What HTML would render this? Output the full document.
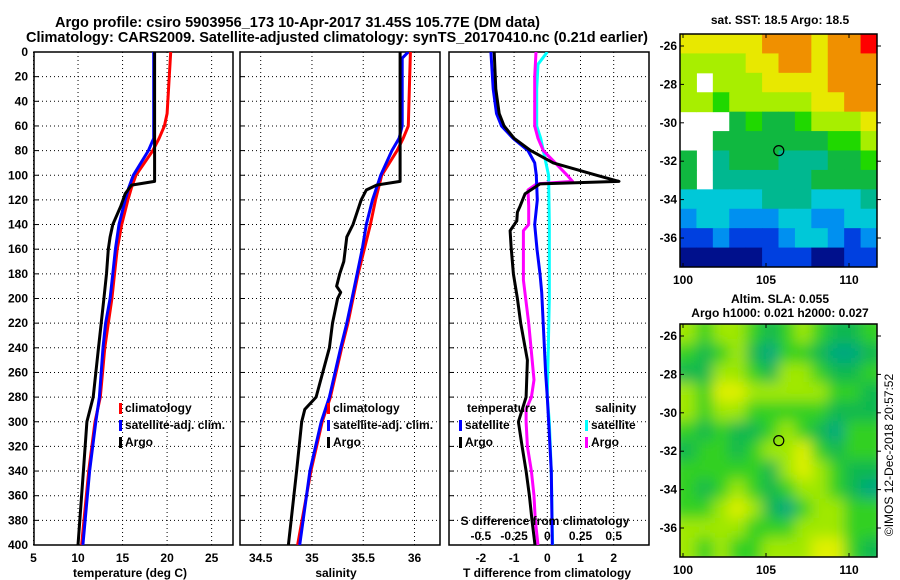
<!DOCTYPE html>
<html><head><meta charset="utf-8">
<style>
html,body{margin:0;padding:0;background:#fff;}
svg{display:block;font-family:"Liberation Sans",sans-serif;font-weight:bold;}
</style></head>
<body>
<svg id="chart" width="900" height="580" viewBox="0 0 900 580" xmlns="http://www.w3.org/2000/svg">
<defs>
<clipPath id="cp1"><rect x="34" y="52" width="199" height="493"/></clipPath>
<clipPath id="cp2"><rect x="240" y="52" width="200" height="493"/></clipPath>
<clipPath id="cp3"><rect x="449" y="52" width="200" height="493"/></clipPath>
<clipPath id="cpm2"><rect x="680" y="324" width="197" height="233"/></clipPath>
<filter id="blur" x="-5%" y="-5%" width="110%" height="110%"><feGaussianBlur stdDeviation="7"/></filter>
</defs>
<text x="55" y="27" font-size="15" textLength="485" lengthAdjust="spacingAndGlyphs">Argo profile: csiro 5903956_173 10-Apr-2017 31.45S 105.77E (DM data)</text>
<text x="26" y="42" font-size="15" textLength="622" lengthAdjust="spacingAndGlyphs">Climatology: CARS2009. Satellite-adjusted climatology: synTS_20170410.nc (0.21d earlier)</text>
<g id="g"></g>
<text x="780" y="24" font-size="12" text-anchor="middle">sat. SST: 18.5 Argo: 18.5</text>
<text x="780" y="303" font-size="12" text-anchor="middle">Altim. SLA: 0.055</text>
<text x="780" y="317" font-size="12" text-anchor="middle">Argo h1000: 0.021 h2000: 0.027</text>
<text x="0" y="0" font-size="12" font-weight="normal" text-anchor="middle" transform="translate(893,455) rotate(-90)">©IMOS 12-Dec-2018 20:57:52</text>
</svg>
<script>
// ---- data ----
const depthTicks=[0,20,40,60,80,100,120,140,160,180,200,220,240,260,280,300,320,340,360,380,400];
const tTicks=[5,10,15,20,25];
const sTicks=[34.5,35,35.5,36];
const dtTicks=[-2,-1,0,1,2];
const dsTicks=[-0.5,-0.25,0,0.25,0.5];
const dsTickLabels=["-0.5","-0.25","0","0.25","0.5"];
const tClimD=[0,50,60,70,80,100,110,120,140,160,180,200,220,240,280,300,340,400];
const tClimV=[20.4,20.0,19.7,19.1,18.4,16.5,16.0,15.6,14.9,14.4,14.1,13.8,13.4,13.0,12.5,11.9,11.2,10.4];
const tSatD=[0,70,80,100,110,120,140,160,180,200,220,240,280,300,340,400];
const tSatV=[18.5,18.5,17.9,16.2,15.7,15.3,14.6,14.2,13.9,13.6,13.1,12.8,12.4,12.0,11.3,10.55];
const tArgoD=[0,105,108,115,125,140,150,160,180,200,220,240,280,300,340,400];
const tArgoV=[18.6,18.6,16.0,15.3,14.8,13.9,13.6,13.4,13.2,12.9,12.6,12.3,11.7,11.0,10.6,10.0];
const sClimD=[0,60,70,80,100,120,140,160,180,200,220,240,280,300,340,400];
const sClimV=[35.96,35.94,35.89,35.83,35.68,35.62,35.57,35.51,35.45,35.40,35.35,35.29,35.18,35.10,34.99,34.86];
const sSatD=[0,5,60,70,80,100,120,140,160,180,200,220,240,280,300,340,400];
const sSatV=[35.94,35.88,35.88,35.85,35.78,35.67,35.59,35.53,35.49,35.44,35.39,35.34,35.28,35.17,35.09,34.98,34.88];
const sArgoD=[0,105,108,112,120,130,140,150,170,180,190,195,200,220,240,280,290,300,340,400];
const sArgoV=[35.86,35.86,35.63,35.53,35.48,35.44,35.40,35.34,35.31,35.27,35.24,35.28,35.25,35.20,35.17,35.04,34.93,34.90,34.85,34.77];
const dtSatD=[0,30,50,60,70,80,90,100,120,140,160,180,195,260,280,340,400];
const dtSatV=[-1.70,-1.63,-1.53,-1.38,-1.03,-0.58,-0.38,-0.33,-0.30,-0.38,-0.31,-0.22,-0.17,-0.05,0.0,0.12,0.15];
const dtArgoD=[0,30,50,60,70,80,90,100,105,107,115,125,130,137,145,158,180,200,220,250,280,300,320,340,360,380,400];
const dtArgoV=[-1.6,-1.55,-1.45,-1.3,-1.0,-0.5,0.18,1.49,2.16,-0.22,-0.67,-0.82,-0.9,-0.92,-1.12,-1.09,-1.02,-0.9,-0.8,-0.6,-0.64,-0.87,-0.76,-0.64,-0.54,-0.46,-0.37];
const dsSatD=[0,10,30,60,70,80,100,140,200,280,300,340,400];
const dsSatV=[0,-0.07,-0.08,-0.08,-0.05,-0.03,0.01,0.015,0.015,0.0,0.015,0.03,0.04];
const dsArgoD=[0,20,60,70,80,90,100,105,107,112,125,140,145,185,220,266,280,290,300,320,340,360,380,400];
const dsArgoV=[-0.085,-0.095,-0.095,-0.07,-0.03,0.06,0.15,0.19,-0.08,-0.145,-0.14,-0.14,-0.18,-0.18,-0.14,-0.10,-0.12,-0.16,-0.16,-0.15,-0.12,-0.10,-0.09,-0.07];
const lonTicks=[100,105,110];
const latTicks=[-26,-28,-30,-32,-34,-36];
const sstGrid=[
[8,8,8,8,8,9,9,9,8,9,9,10],
[7,7,7,7,8,8,9,9,8,9,9,9],
[7,-1,7,7,7,8,8,8,8,9,9,9],
[7,7,6,7,7,7,7,7,8,8,9,9],
[-1,-1,-1,5,6,5,5,6,7,7,7,8],
[-1,-1,5,5,5,5,5,5,5,6,6,7],
[5,-1,4,5,5,5,4,4,4,5,5,6],
[5,-1,4,4,4,4,4,4,5,5,5,5],
[3,3,3,3,3,4,4,4,3,3,3,4],
[2,3,3,2,2,2,3,3,2,2,3,3],
[1,1,2,1,1,1,2,3,3,2,1,2],
[0,0,0,0,0,1,1,1,0,0,1,1]];
const slaGrid=[
[7,6,7,7,6,5,6,7,6,5,5,6],
[6,5,6,7,5,4,6,6,5,4,4,5],
[5,5,7,7,6,5,7,7,6,5,5,6],
[7,6,8,8,7,7,7,7,7,6,6,5],
[7,6,7,7,6,6,6,6,6,5,5,5],
[6,5,6,5,5,6,7,6,5,4,6,6],
[5,6,6,5,6,7,7,8,6,5,6,6],
[6,6,6,6,6,5,7,8,7,6,5,5],
[6,5,6,7,6,5,6,7,7,6,5,4],
[6,6,7,8,7,5,4,6,7,7,6,6],
[7,7,7,7,6,6,6,7,7,7,6,6],
[7,6,7,6,6,7,7,7,8,8,6,5]];
const argoLon=105.77, argoLat=-31.45;

// ---- helpers ----
const NS="http://www.w3.org/2000/svg";
const G=document.getElementById('g');
function mk(tag,attrs,parent){const e=document.createElementNS(NS,tag);for(const k in attrs)e.setAttribute(k,attrs[k]);(parent||G).appendChild(e);return e;}
const Y0=52,Y1=545;
const yD=d=>Y0+(d/400)*(Y1-Y0);
function lin(d0,d1,r0,r1){return v=>r0+(v-d0)/(d1-d0)*(r1-r0);}
const xT=lin(5,27.4,33.5,233);
const xS=lin(34.5,36,260.7,414.5);
const xDT=lin(0,1,547.3,580.5);
const xDS=v=>xDT(v*4);
const palette=['#00108c','#0040e0','#0090f0','#00c8d8','#00b890','#10b840','#20d800','#a8ee00','#e8e800','#f09000','#ff0000'];
const slaPal=['#00108c','#0040e0','#0090f0','#00c8c0','#00a880','#10b850','#30d020','#a0e800','#e0f000','#f0c000','#ff0000'];

function panel(name,x0,x1,xs,ticks,labels,clip,showY){
  const fr=mk('rect',{x:x0,y:Y0,width:x1-x0,height:Y1-Y0,fill:'none',stroke:'#000','stroke-width':1.5});
  
  
  depthTicks.forEach((d,i)=>{
    if(i>0&&i<depthTicks.length-1){const l=mk('line',{x1:x0,x2:x1,y1:yD(d),y2:yD(d),stroke:'#000','stroke-dasharray':'1,3','stroke-width':1});
    
    }
    const tk=mk('line',{x1:x0,x2:x0+5,y1:yD(d),y2:yD(d),stroke:'#000'});
    
    
    if(showY){const t=mk('text',{x:28,y:yD(d)+4,'font-size':12,'text-anchor':'end'});t.textContent=d;
    
    }
  });
  ticks.forEach((v,i)=>{
    const x=xs(v);
    const l=mk('line',{x1:x,x2:x,y1:Y0,y2:Y1,stroke:'#000','stroke-dasharray':'1,3','stroke-width':1});
    
    
    const t=mk('text',{x:x,y:562,'font-size':12,'text-anchor':'middle'});t.textContent=labels[i];
    
    
  });
}
function series(name,D,V,xs,color,w,clip){
  const pts=D.map((d,i)=>xs(V[i]).toFixed(1)+','+yD(d).toFixed(1)).join(' ');
  const p=mk('polyline',{points:pts,fill:'none',stroke:color,'stroke-width':w,'stroke-linejoin':'round','clip-path':'url(#'+clip+')'});
  
  
}
function txt(name,s,x,y,size,anchor){const t=mk('text',{x:x,y:y,'font-size':size||12,'text-anchor':anchor||'start'});t.textContent=s;
  
  return t;}
function legend(name,x,y,color,label){
  const r=mk('rect',{x:x,y:y-9,width:3,height:11,fill:color});
  
  
  txt(name+'-label',label,x+6,y,12);
}

// panel 1
panel('temperature-panel',34,233,xT,tTicks,tTicks,'cp1',true);
series('temp-climatology-line',tClimD,tClimV,xT,'#f00',3,'cp1');
series('temp-satellite-line',tSatD,tSatV,xT,'#00f',3,'cp1');
series('temp-argo-line',tArgoD,tArgoV,xT,'#000',3,'cp1');
txt('temperature-axis-title','temperature (deg C)',130,577,12,'middle');
legend('legend-climatology-1',119,412,'#f00','climatology');
legend('legend-satellite-1',119,429,'#00f','satellite-adj. clim.');
legend('legend-argo-1',119,446,'#000','Argo');
// panel 2
panel('salinity-panel',240,440,xS,sTicks,sTicks,'cp2',false);
series('sal-climatology-line',sClimD,sClimV,xS,'#f00',3,'cp2');
series('sal-satellite-line',sSatD,sSatV,xS,'#00f',3,'cp2');
series('sal-argo-line',sArgoD,sArgoV,xS,'#000',3,'cp2');
txt('salinity-axis-title','salinity',336,577,12,'middle');
legend('legend-climatology-2',327,412,'#f00','climatology');
legend('legend-satellite-2',327,429,'#00f','satellite-adj. clim.');
legend('legend-argo-2',327,446,'#000','Argo');
// panel 3
panel('difference-panel',449,649,xDT,dtTicks,dtTicks,'cp3',false);
series('dsal-satellite-line',dsSatD,dsSatV,xDS,'#00ffff',3,'cp3');
series('dsal-argo-line',dsArgoD,dsArgoV,xDS,'#ff00ff',3,'cp3');
series('dtemp-satellite-line',dtSatD,dtSatV,xDT,'#00f',3,'cp3');
series('dtemp-argo-line',dtArgoD,dtArgoV,xDT,'#000',3,'cp3');
txt('t-diff-axis-title','T difference from climatology',547,577,12,'middle');
txt('s-diff-axis-title','S difference from climatology',545,525,12,'middle');
dsTicks.forEach((v,i)=>txt('s-diff-tick-label',dsTickLabels[i],xDS(v),540,12,'middle'));
txt('legend-temperature-header','temperature',467,412,12);
txt('legend-salinity-header','salinity',595,412,12);
legend('legend-dtemp-satellite',459,429,'#00f','satellite');
legend('legend-dtemp-argo',459,446,'#000','Argo');
legend('legend-dsal-satellite',585,429,'#00ffff','satellite');
legend('legend-dsal-argo',585,446,'#ff00ff','Argo');

// maps
function map(name,grid,pal,x0,y0,x1,y1,blur,clip){
  const lonX=lin(100,110,683,849);
  const latY=lin(-26,-36,y0+12,y0+204);
  const rows=grid.length, cols=grid[0].length;
  const cw=(x1-x0)/cols, ch=(y1-y0)/rows;
  const grp=mk('g',blur?{'clip-path':'url(#'+clip+')'}:{});
  
  
  const inner=blur?mk('g',{filter:'url(#blur)'},grp):grp;
  if(blur){const bg=mk('rect',{x:x0-10,y:y0-10,width:x1-x0+20,height:y1-y0+20,fill:pal[6]},inner);
    
    }
  grid.forEach((row,r)=>row.forEach((v,c)=>{
    if(v<0)return;
    const ex=(c===0&&blur)?-10:0, ey=(r===0&&blur)?-10:0;
    const ew=(c===cols-1&&blur)?10:0, eh=(r===rows-1&&blur)?10:0;
    const cell=mk('rect',{x:x0+c*cw+ex,y:y0+r*ch+ey,width:cw+0.5-ex+ew,height:ch+0.5-ey+eh,fill:pal[v]},inner);
    
    
  }));
  const fr=mk('rect',{x:x0,y:y0,width:x1-x0,height:y1-y0,fill:'none',stroke:'#000','stroke-width':1.5});
  
  
  lonTicks.forEach(v=>{
    const x=lonX(v);
    const a=mk('line',{x1:x,x2:x,y1:y1,y2:y1-4,stroke:'#000'});
    const b=mk('line',{x1:x,x2:x,y1:y0,y2:y0+4,stroke:'#000'});
    txt(name+'-lon-label',v,x,y1+17,12,'middle');
  });
  latTicks.forEach(v=>{
    const y=latY(v);
    const a=mk('line',{x1:x0,x2:x0+4,y1:y,y2:y,stroke:'#000'});
    const b=mk('line',{x1:x1,x2:x1+4,y1:y,y2:y,stroke:'#000'});
    txt(name+'-lat-label',v,x0-3,y+4,12,'end');
  });
  const c=mk('circle',{cx:lonX(argoLon),cy:latY(argoLat),r:5,fill:'none',stroke:'#000','stroke-width':1.2});
  
  
}
map('sst-map',sstGrid,palette,680,34,877,267,false,'');
map('sla-map',slaGrid,slaPal,680,324,877,557,true,'cpm2');
</script>
</body></html>
